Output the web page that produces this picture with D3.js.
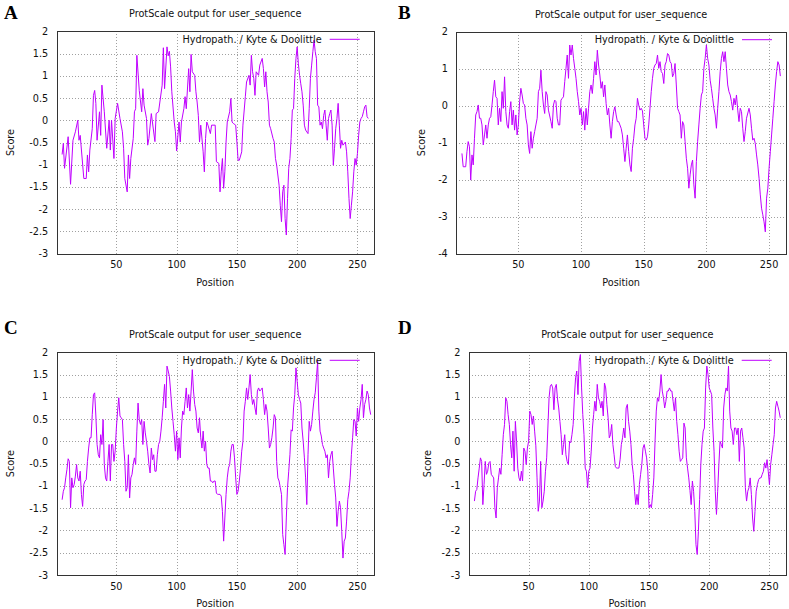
<!DOCTYPE html>
<html>
<head>
<meta charset="utf-8">
<script src="https://cdn.jsdelivr.net/npm/d3@7"></script>
<style>
  body { margin: 0; background: #fff; }
  svg { display: block; font-family: "DejaVu Sans", sans-serif; }
  .grid line { stroke: #a0a0a0; stroke-width: 1; stroke-dasharray: 1,2; shape-rendering: crispEdges; }
  .frame { fill: none; stroke: #333; stroke-width: 1; shape-rendering: crispEdges; }
  .lbl { font-size: 9.7px; fill: #111; }
  .letter { font-family: "Liberation Serif", serif; font-weight: bold; font-size: 19px; fill: #000; }
  .score-line { fill: none; stroke: #c000ff; stroke-width: 1; }
</style>
</head>
<body>
<svg id="chart" width="789" height="609"></svg>
<script>
var chartTitle = "ProtScale output for user_sequence";
var legendLabel = "Hydropath. / Kyte & Doolittle";
var xLabel = "Position";
var yLabel = "Score";
var xTicks = [50, 100, 150, 200, 250];
var yTicksHalf = [-3, -2.5, -2, -1.5, -1, -0.5, 0, 0.5, 1, 1.5, 2];
var yTicksWhole = [-4, -3, -2, -1, 0, 1, 2];

// [position, score]
var seriesA = [
  [5,-0.77],[6,-0.52],[7,-1.08],[10,-0.37],[12,-1.44],[14,-0.45],[16,-0.26],[18,0.0],[19,-0.45],[20,-0.34],
  [23,-1.31],[25,-1.31],[26,-0.78],[27,-1.16],[28,-0.67],[30,-0.19],[31,0.56],[32,0.67],[33,0.38],[34,-0.45],
  [36,0.19],[37,-0.34],[38,0.79],[40,0.19],[42,-0.63],[44,0.0],[45,-0.67],[46,0.0],[48,-0.86],[49,0.04],
  [51,0.38],[53,0.04],[55,-0.26],[56,-0.63],[57,-1.31],[59,-1.61],[60,-0.78],[61,-1.31],[62,-0.86],[64,-0.41],
  [65,0.19],[66,0.26],[67,1.46],[69,0.67],[71,0.19],[72,0.71],[73,0.34],[75,0.04],[76,-0.56],[77,-0.41],
  [79,0.15],[82,-0.48],[83,0.15],[85,0.19],[88,0.79],[89,1.63],[90,0.71],[92,1.65],[93,1.45],[94,1.55],
  [95,1.2],[96,0.64],[98,-0.04],[99,-0.26],[100,-0.69],[102,-0.04],[103,-0.49],[104,-0.04],[106,0.26],[107,0.53],
  [108,0.26],[110,1.16],[111,0.64],[112,1.48],[113,1.09],[115,1.01],[116,0.64],[117,0.41],[118,0.11],[119,-0.49],
  [120,-0.11],[122,-0.71],[123,-1.16],[124,-0.41],[125,-0.04],[126,-0.11],[128,-0.30],[129,-0.11],[132,-0.11],[133,-0.93],
  [135,-0.97],[136,-1.61],[137,-1.16],[138,-0.86],[139,-1.53],[140,-1.16],[141,-0.49],[142,-0.04],[144,0.19],[145,0.49],
  [146,-0.04],[147,-0.07],[149,-0.11],[150,-0.49],[151,-0.90],[152,-0.90],[154,-0.71],[155,-0.11],[157,0.53],[158,0.86],
  [160,1.01],[161,0.79],[162,1.46],[163,1.09],[164,0.94],[165,0.56],[166,1.09],[168,1.01],[169,1.24],[171,1.39],
  [172,1.16],[173,0.75],[174,1.09],[175,0.64],[176,0.41],[177,-0.11],[178,-0.19],[180,-0.41],[181,-0.49],[182,-0.86],
  [183,-1.01],[185,-1.46],[186,-1.91],[187,-2.28],[188,-1.61],[189,-1.46],[190,-2.21],[191,-2.58],[192,-1.76],[193,-1.08],
  [194,-0.86],[195,-0.41],[196,0.23],[197,0.26],[198,0.94],[199,1.39],[200,1.65],[201,1.27],[202,1.01],[203,0.82],
  [204,0.64],[205,0.34],[206,-0.11],[207,-0.22],[209,-0.30],[210,0.26],[211,0.94],[212,1.24],[213,1.54],[214,1.80],
  [215,1.54],[216,1.39],[217,0.34],[218,0.30],[219,-0.11],[220,-0.04],[221,-0.19],[222,0.11],[223,0.23],[224,-0.11],
  [225,-0.45],[226,0.04],[227,0.15],[228,0.23],[229,-0.11],[230,-1.01],[231,-0.63],[232,-0.19],[233,0.04],[234,0.38],
  [235,-0.11],[236,-0.63],[237,-0.45],[238,-0.56],[240,-0.49],[241,-0.71],[242,-1.16],[243,-1.76],[244,-2.21],[245,-1.91],
  [246,-1.61],[247,-1.16],[248,-0.86],[249,-1.01],[250,-0.75],[251,-0.34],[252,-0.04],[253,0.04],[254,0.08],[255,0.19],
  [256,0.30],[257,0.34],[258,0.08],[259,0.04]
];

var seriesB = [
  [5,-1.29],[6,-1.65],[8,-1.65],[9,-1.24],[10,-0.97],[11,-1.11],[12,-2.01],[13,-1.33],[14,-1.60],[15,-0.88],
  [16,-0.25],[17,-0.16],[18,0.02],[19,-0.34],[20,-0.34],[21,-0.52],[22,-1.06],[23,-0.79],[24,-0.52],[25,-0.88],
  [26,-0.52],[27,-0.34],[28,-0.30],[29,0.02],[30,0.38],[31,0.69],[32,0.24],[33,0.20],[34,-0.52],[35,-0.07],
  [36,-0.43],[37,0.38],[38,-0.07],[39,0.78],[40,-0.16],[41,-0.52],[42,-0.61],[43,-0.16],[44,0.11],[45,-0.52],
  [46,-0.12],[47,-0.66],[48,-0.25],[49,-0.79],[50,-0.52],[51,0.11],[52,0.47],[53,0.29],[54,0.06],[55,0.02],
  [56,-0.34],[57,-0.52],[58,-1.06],[59,-1.29],[60,-0.70],[61,-1.15],[62,-0.88],[63,-0.70],[64,-0.52],[65,-0.34],
  [66,0.38],[67,0.47],[68,0.96],[69,0.38],[70,0.02],[71,-0.21],[72,0.38],[73,0.29],[74,-0.12],[76,-0.43],
  [77,-0.61],[78,0.02],[79,0.15],[80,0.11],[81,-0.34],[82,-0.52],[83,-0.52],[84,0.15],[85,0.20],[86,0.24],
  [87,0.65],[88,1.01],[89,1.37],[90,0.74],[91,1.64],[92,1.37],[93,1.64],[94,1.28],[95,1.01],[96,0.74],
  [97,0.38],[98,0.11],[99,-0.25],[100,-0.07],[101,-0.52],[102,-0.16],[103,-0.66],[104,-0.07],[105,-0.52],[106,-0.07],
  [107,0.38],[108,0.56],[109,0.33],[110,0.74],[111,1.19],[112,0.83],[113,1.50],[114,1.10],[115,0.83],[116,0.47],
  [117,0.65],[118,0.24],[119,0.56],[120,0.06],[121,-0.25],[122,-0.07],[123,-0.52],[124,-0.88],[125,-0.43],[126,-0.16],
  [127,-0.03],[128,-0.25],[129,-0.43],[130,-0.43],[131,-0.52],[132,-0.61],[133,-0.79],[134,-1.15],[135,-1.51],[136,-1.15],
  [137,-0.79],[138,-1.24],[139,-1.60],[140,-1.78],[141,-1.15],[142,-0.88],[143,-0.52],[144,-0.34],[145,0.20],[146,0.02],
  [147,-0.12],[148,-0.07],[149,-0.14],[150,-0.52],[151,-0.88],[152,-0.93],[153,-0.84],[154,-0.52],[155,-0.07],[156,0.38],
  [157,0.74],[158,1.01],[159,1.10],[160,1.14],[161,1.37],[162,1.01],[163,1.19],[164,0.92],[165,0.87],[166,0.60],
  [167,1.10],[168,1.19],[169,1.41],[170,1.37],[171,1.19],[172,1.14],[173,0.78],[174,0.87],[175,1.14],[176,0.56],
  [177,-0.07],[178,-0.16],[179,-0.25],[180,-0.88],[181,-0.43],[182,-0.52],[183,-0.97],[184,-1.42],[185,-1.69],[186,-2.23],
  [187,-1.87],[188,-1.60],[189,-1.47],[190,-2.14],[191,-2.50],[192,-1.51],[193,-0.97],[194,-0.52],[195,-0.07],[196,0.29],
  [197,0.38],[198,1.01],[199,1.28],[200,1.64],[201,1.28],[202,1.10],[203,0.69],[204,0.47],[205,0.20],[206,-0.07],
  [207,-0.25],[208,-0.61],[209,-0.07],[210,0.38],[211,0.92],[212,1.28],[213,1.46],[214,1.19],[215,1.46],[216,1.01],
  [217,0.56],[218,0.38],[219,0.29],[220,0.11],[221,-0.12],[222,0.20],[223,0.02],[224,0.29],[225,-0.12],[226,-0.43],
  [227,-0.07],[228,-0.16],[229,-0.61],[230,-0.97],[231,-0.70],[232,-0.34],[234,-0.07],[235,-0.25],[236,-0.61],[237,-0.93],
  [238,-0.88],[239,-1.02],[240,-1.33],[241,-1.60],[242,-1.96],[243,-2.41],[244,-2.77],[245,-2.95],[246,-3.14],[247,-3.41],
  [248,-2.50],[249,-2.23],[250,-1.69],[251,-1.24],[252,-0.79],[253,-0.34],[254,0.11],[255,0.56],[256,0.92],[257,1.19],
  [258,1.10],[259,0.80]
];

var seriesC = [
  [5,-1.31],[6,-1.12],[7,-1.04],[8,-0.82],[9,-0.63],[10,-0.39],[11,-0.45],[12,-1.49],[13,-0.82],[14,-1.04],
  [15,-0.97],[16,-0.78],[17,-0.52],[18,-0.82],[19,-0.89],[20,-0.67],[21,-1.19],[22,-1.46],[23,-0.97],[24,-0.89],
  [25,-0.86],[26,-0.45],[27,-0.15],[28,0.08],[29,0.08],[30,0.60],[31,1.05],[32,1.09],[33,0.57],[34,-0.07],
  [35,-0.30],[36,-0.37],[37,0.15],[38,-0.07],[39,0.49],[40,-0.52],[41,-0.82],[42,-0.89],[43,-0.45],[44,-0.07],
  [45,-0.89],[46,-0.07],[47,-0.07],[48,-0.45],[49,-0.22],[50,0.30],[51,0.68],[52,0.98],[53,0.57],[54,0.53],
  [55,0.49],[56,-0.07],[57,-0.45],[58,-1.12],[59,-1.04],[60,-0.30],[61,-1.27],[62,-0.82],[63,-0.74],[64,-0.52],
  [65,-0.37],[66,-0.52],[67,0.23],[68,0.86],[69,0.49],[70,0.38],[71,0.49],[72,-0.07],[73,0.45],[74,0.19],
  [75,0.0],[76,-0.22],[77,-0.52],[78,-0.71],[79,-0.15],[80,-0.41],[81,-0.30],[82,-0.67],[83,-0.67],[84,-0.30],
  [85,-0.07],[86,0.0],[87,0.23],[88,0.53],[89,0.90],[90,1.28],[91,0.75],[92,1.69],[93,1.58],[94,1.46],
  [95,1.13],[96,0.75],[97,0.45],[98,0.15],[99,-0.22],[100,0.23],[101,-0.41],[102,0.08],[103,-0.37],[104,0.30],
  [105,0.68],[106,0.60],[107,0.90],[108,1.20],[109,0.75],[110,1.05],[111,0.68],[112,1.13],[113,1.61],[114,1.13],
  [115,0.83],[116,0.68],[117,0.30],[118,0.19],[119,0.53],[120,0.08],[121,-0.15],[122,0.23],[123,-0.22],[124,0.0],
  [125,-0.52],[126,-0.60],[127,-0.60],[128,-0.89],[129,-0.89],[130,-0.93],[131,-0.89],[132,-0.89],[133,-1.16],[134,-1.19],
  [135,-1.19],[136,-1.19],[137,-1.23],[138,-1.57],[139,-2.24],[140,-1.72],[141,-1.19],[142,-0.82],[143,-0.60],[144,-0.52],
  [145,-0.22],[146,-0.07],[147,-0.07],[148,-0.37],[149,-0.82],[150,-1.19],[151,-1.12],[152,-0.89],[153,-0.60],[154,-0.22],
  [155,0.0],[156,0.68],[157,0.90],[158,1.20],[159,0.94],[160,1.20],[161,1.50],[162,1.05],[163,0.83],[164,0.94],
  [165,0.75],[166,0.60],[167,1.13],[168,1.20],[169,1.13],[170,1.16],[171,1.20],[172,0.94],[173,0.60],[174,0.83],
  [175,0.68],[176,0.30],[177,-0.15],[178,-0.07],[179,0.08],[180,0.30],[181,0.60],[182,0.53],[183,-0.45],[184,-0.82],
  [185,-0.89],[186,-1.04],[187,-1.19],[188,-2.09],[189,-2.32],[190,-2.54],[191,-1.72],[192,-1.04],[193,-0.67],[194,-0.30],
  [195,0.26],[196,0.23],[197,0.75],[198,1.05],[199,1.65],[200,1.35],[201,1.05],[202,0.94],[203,0.86],[204,0.30],
  [205,0.0],[206,-0.37],[207,-0.82],[208,-1.42],[209,-0.30],[210,0.45],[211,0.23],[212,0.38],[213,0.68],[214,0.94],
  [215,1.09],[216,1.43],[217,1.80],[218,0.68],[219,0.23],[220,0.12],[221,-0.07],[222,-0.15],[223,-0.22],[224,-0.37],
  [225,-0.30],[226,-0.82],[227,-0.45],[228,-0.30],[229,-0.22],[230,-0.60],[231,-0.97],[232,-1.27],[233,-1.91],[234,-1.57],
  [235,-1.34],[236,-1.49],[237,-2.02],[238,-2.62],[239,-2.24],[240,-2.17],[241,-1.79],[242,-1.31],[243,-1.12],[244,-0.82],
  [245,-0.30],[246,0.08],[247,0.49],[248,0.45],[249,0.12],[250,0.75],[251,0.45],[252,0.75],[253,0.94],[254,1.28],
  [255,0.53],[256,0.83],[257,0.94],[258,1.13],[259,1.05],[260,0.75],[261,0.60]
];

var seriesD = [
  [5,-1.34],[6,-1.12],[7,-1.08],[8,-0.82],[9,-0.60],[10,-0.37],[11,-0.45],[12,-1.42],[13,-0.97],[14,-0.45],
  [15,-0.74],[16,-0.67],[17,-0.48],[18,-0.45],[19,-0.74],[20,-0.78],[21,-0.82],[22,-1.49],[23,-1.72],[24,-1.04],
  [25,-0.82],[26,-0.60],[27,-0.74],[28,-0.30],[29,0.15],[30,0.38],[31,0.98],[32,0.90],[33,0.60],[34,0.38],
  [35,-0.07],[36,-0.37],[37,0.23],[38,-0.67],[39,0.45],[40,0.0],[41,-0.60],[42,-0.82],[43,-0.89],[44,-0.67],
  [45,-0.89],[46,-0.15],[47,-0.22],[48,-0.52],[49,-0.15],[50,0.0],[51,0.68],[52,0.60],[53,0.38],[54,0.57],
  [55,0.23],[56,-0.10],[57,-0.82],[58,-1.57],[59,-1.34],[60,-0.45],[61,-1.49],[62,-1.34],[63,-1.12],[64,-0.67],
  [65,-0.37],[66,0.30],[67,0.98],[68,1.24],[69,1.28],[70,1.20],[71,0.71],[72,1.20],[73,1.28],[74,0.95],
  [75,0.75],[76,0.45],[77,0.15],[78,-0.30],[79,-0.07],[80,0.15],[81,-0.30],[82,-0.45],[83,-0.52],[84,0.0],
  [85,-0.03],[86,0.15],[87,0.38],[88,0.98],[89,1.43],[90,1.58],[91,1.05],[92,1.80],[93,1.95],[94,1.20],
  [95,0.60],[96,0.15],[97,-0.60],[98,-0.67],[99,-1.04],[100,-0.67],[101,-0.60],[102,-0.22],[103,0.30],[104,0.60],
  [105,0.90],[106,0.68],[107,1.28],[108,0.98],[109,0.90],[110,0.75],[111,0.90],[112,0.57],[113,1.31],[114,1.20],
  [115,0.83],[116,0.53],[117,0.08],[118,0.15],[119,0.38],[120,-0.07],[121,-0.30],[122,-0.56],[123,-0.60],[124,-0.60],
  [125,-0.60],[126,-0.40],[127,-0.07],[128,0.08],[129,0.30],[130,0.08],[131,0.75],[132,0.83],[133,0.45],[134,0.23],
  [135,-0.07],[136,-0.52],[137,-0.74],[138,-1.12],[139,-1.42],[140,-1.19],[141,-1.42],[142,-0.97],[143,-0.74],[144,-0.52],
  [145,-0.15],[146,-0.07],[147,-0.22],[148,-0.37],[149,-0.67],[150,-1.49],[151,-1.42],[152,-1.49],[153,-1.19],[154,-0.82],
  [155,0.0],[156,0.68],[157,0.98],[158,0.90],[159,1.13],[160,1.50],[161,1.13],[162,0.98],[163,0.75],[164,0.90],
  [165,1.13],[166,1.13],[167,1.20],[168,1.13],[169,1.13],[170,0.90],[171,0.68],[172,0.98],[173,0.45],[174,0.15],
  [175,-0.22],[176,-0.45],[177,-0.41],[178,-0.37],[179,0.41],[180,0.30],[181,-0.37],[182,-0.60],[183,-0.82],[184,-1.10],
  [185,-1.42],[186,-0.89],[187,-1.12],[188,-1.57],[189,-2.32],[190,-2.54],[191,-2.02],[192,-1.30],[193,-0.52],[194,-0.07],
  [195,0.23],[196,0.30],[197,1.20],[198,1.69],[199,1.50],[200,1.20],[201,1.13],[202,1.05],[203,0.30],[204,-0.22],
  [205,-1.12],[206,-1.64],[207,-1.12],[208,-0.52],[209,0.0],[210,-0.07],[211,-0.15],[212,0.75],[213,1.05],[214,1.20],
  [215,1.13],[216,1.69],[217,0.68],[218,0.30],[219,0.23],[220,-0.07],[221,0.30],[222,0.30],[223,0.15],[224,0.30],
  [225,-0.45],[226,0.23],[227,0.30],[228,0.08],[229,-0.15],[230,-1.04],[231,-1.34],[232,-1.12],[233,-1.04],[234,-0.82],
  [235,-1.19],[236,-1.72],[237,-2.02],[238,-1.57],[239,-1.12],[240,-0.97],[241,-0.86],[242,-0.82],[243,-0.82],[244,-0.74],
  [245,-0.67],[246,-0.48],[247,-0.60],[248,-0.41],[249,-0.67],[250,-0.97],[251,-0.52],[252,-0.30],[253,-0.07],[254,0.15],
  [255,0.75],[256,0.90],[257,0.79],[258,0.68],[259,0.53]
];

// layout of the four panels (pixel boxes of each plot area)
var panels = [
  { letter: "A", data: seriesA, yDomain: [-3, 2], yTicks: yTicksHalf,
    left: 56.7, right: 373.7, top: 31.3, bottom: 253.7, letterX: 4, letterY: 19, scoreX: 13.5 },
  { letter: "B", data: seriesB, yDomain: [-4, 2], yTicks: yTicksWhole,
    left: 456.3, right: 786, top: 31.7, bottom: 253.7, letterX: 398, letterY: 19, scoreX: 424.5 },
  { letter: "C", data: seriesC, yDomain: [-3, 2], yTicks: yTicksHalf,
    left: 56.7, right: 373.7, top: 352.3, bottom: 575, letterX: 4, letterY: 334, scoreX: 13.5 },
  { letter: "D", data: seriesD, yDomain: [-3, 2], yTicks: yTicksHalf,
    left: 469, right: 785.7, top: 352.3, bottom: 575, letterX: 398, letterY: 334, scoreX: 431 }
];

var svg = d3.select("#chart");

panels.forEach(function(p) {
  var x = d3.scaleLinear().domain([0.5, 263.5]).range([p.left, p.right]);
  var y = d3.scaleLinear().domain(p.yDomain).range([p.bottom, p.top]);
  var g = svg.append("g");

  // dotted grid
  var grid = g.append("g").attr("class", "grid");
  grid.selectAll(".gx").data(xTicks).enter().append("line")
    .attr("x1", function(d) { return Math.round(x(d)) + 0.5; })
    .attr("x2", function(d) { return Math.round(x(d)) + 0.5; })
    .attr("y1", p.top).attr("y2", p.bottom);
  grid.selectAll(".gy").data(p.yTicks.slice(1, -1)).enter().append("line")
    .attr("x1", p.left).attr("x2", p.right)
    .attr("y1", function(d) { return Math.round(y(d)) + 0.5; })
    .attr("y2", function(d) { return Math.round(y(d)) + 0.5; });

  // tick labels
  g.selectAll(".ty").data(p.yTicks).enter().append("text")
    .attr("class", "lbl")
    .attr("x", p.left - 8.5)
    .attr("y", function(d) { return y(d) + 3.5; })
    .attr("text-anchor", "end")
    .text(function(d) { return String(d); });
  g.selectAll(".tx").data(xTicks).enter().append("text")
    .attr("class", "lbl")
    .attr("x", function(d) { return x(d); })
    .attr("y", p.bottom + 14.5)
    .attr("text-anchor", "middle")
    .text(function(d) { return String(d); });

  // the hydropathy curve
  var line = d3.line()
    .x(function(d) { return x(d[0]); })
    .y(function(d) { return y(d[1]); });
  g.append("path").datum(p.data).attr("class", "score-line").attr("d", line);

  // border
  g.append("rect").attr("class", "frame")
    .attr("x", Math.round(p.left) + 0.5).attr("y", Math.round(p.top) + 0.5)
    .attr("width", Math.round(p.right) - Math.round(p.left))
    .attr("height", Math.round(p.bottom) - Math.round(p.top));

  // key
  var ky = p.top + 8;
  g.append("line").attr("class", "score-line")
    .attr("x1", p.right - 44).attr("x2", p.right - 14)
    .attr("y1", ky).attr("y2", ky);
  g.append("text").attr("class", "lbl")
    .attr("x", p.right - 52).attr("y", ky + 3.5)
    .attr("text-anchor", "end")
    .text(legendLabel);

  // titles
  g.append("text").attr("class", "lbl")
    .attr("x", (p.left + p.right) / 2).attr("y", p.top - 14)
    .attr("text-anchor", "middle")
    .text(chartTitle);
  g.append("text").attr("class", "lbl")
    .attr("x", (p.left + p.right) / 2).attr("y", p.bottom + 32)
    .attr("text-anchor", "middle")
    .text(xLabel);
  g.append("text").attr("class", "lbl")
    .attr("transform", "translate(" + p.scoreX + "," + ((p.top + p.bottom) / 2) + ") rotate(-90)")
    .attr("text-anchor", "middle")
    .text(yLabel);

  svg.append("text").attr("class", "letter")
    .attr("x", p.letterX).attr("y", p.letterY)
    .text(p.letter);
});
</script>
</body>
</html>
